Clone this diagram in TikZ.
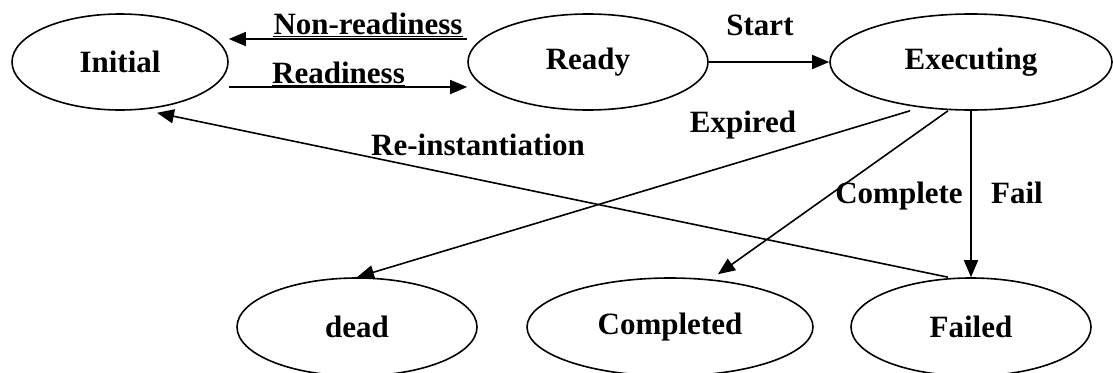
\documentclass[tikz,border=0pt]{standalone}
\usepackage{fontspec}
\setmainfont[FakeStretch=1.0]{Liberation Serif}
\usetikzlibrary{shapes.geometric,arrows.meta}
\newcommand\lbl{\bfseries\fontsize{31}{37}\selectfont}
\begin{document}
\begin{tikzpicture}[x=1pt,y=-1pt,
  st/.style={ellipse,draw,line width=1.6pt,inner sep=0pt,font=\lbl},
  arr/.style={line width=1.6pt,-{Triangle[length=17pt,width=14pt]}},
  lab/.style={font=\lbl,inner sep=0pt,anchor=base},
  ul/.style={line width=1.6pt}]
\useasboundingbox (0,0) rectangle (1113,372);
% states
\node[st,minimum width=216pt,minimum height=96pt] (init) at (120,62) {Initial};
\node[st,minimum width=240pt,minimum height=96pt] (ready) at (588,62) {Ready};
\node[st,minimum width=282pt,minimum height=96pt] (exec) at (971,62) {Executing};
\node[st,minimum width=240pt,minimum height=98pt] (dead) at (357,327) {dead};
\node[st,minimum width=286pt,minimum height=98pt] (done) at (670,327) {Completed};
\node[st,minimum width=240pt,minimum height=98pt] (fail) at (971,327) {Failed};
% transitions
\draw[arr] ([yshift=23pt]ready.west) -- ([yshift=23pt]init.east);
\draw[arr] ([yshift=-25pt]init.east) -- ([yshift=-25pt]ready.west);
\draw[arr] (ready.east) -- (exec.west);
\draw[arr] ([xshift=-61pt]exec.south) -- (dead.north);
\draw[arr] ([xshift=-23pt]exec.south) -- ([xshift=48pt,yshift=3pt]done.north);
\draw[arr] (exec.south) -- (fail.north);
\draw[arr] ([xshift=-23pt]fail.north) -- ([xshift=37pt,yshift=-2pt]init.south);
% labels
\node[lab] (lnr) at (368,34) {Non-readiness};
\node[lab,anchor=base west] (lr) at (272,83) {Readiness};
\draw[ul] ([yshift=-2.5pt]lnr.base west) -- ([yshift=-2.5pt]lnr.base east);
\draw[ul] ([yshift=-2.5pt]lr.base west) -- ([yshift=-2.5pt]lr.base east);
\node[lab] (lstart) at (760,35) {Start};
\node[lab] (lexp) at (743,132) {Expired};
\node[lab] (lre) at (478,155) {Re-instantiation};
\node[lab] (lcomp) at (899,203) {Complete};
\node[lab] (lfail) at (1017,203) {Fail};
\end{tikzpicture}
\end{document}
